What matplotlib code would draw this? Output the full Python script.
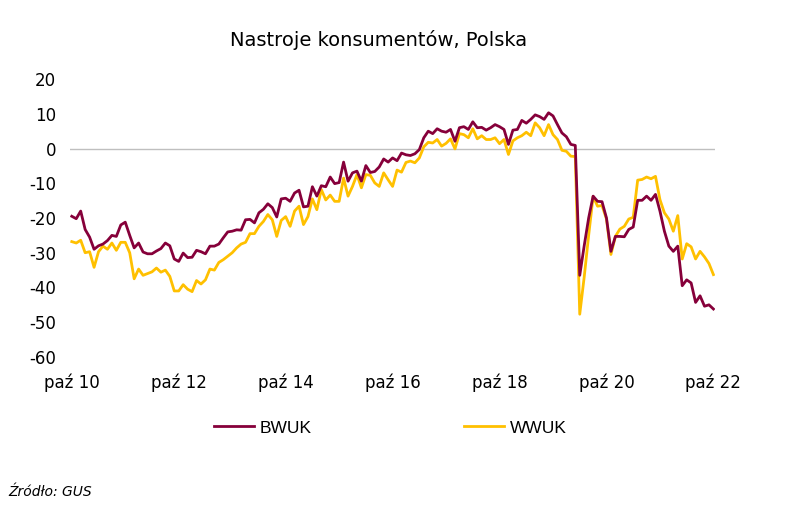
import matplotlib
matplotlib.use("Agg")
from matplotlib import pyplot as plt
import numpy as np

plt.rcParams["axes.unicode_minus"] = False

# monthly, paz 2010 .. paz 2022
bwuk = [-19.5, -20.2, -18.0, -23.3, -25.5, -29.0, -28.0, -27.5, -26.5, -25.0,
        -25.3, -22.0, -21.2, -25.0, -28.6, -27.2, -29.8, -30.3, -30.3, -29.5,
        -28.8, -27.2, -28.0, -31.8, -32.5, -30.1, -31.4, -31.3, -29.3, -29.7,
        -30.3, -28.1, -28.1, -27.5, -25.7, -24.0, -23.8, -23.4, -23.5, -20.5,
        -20.4, -21.4, -18.5, -17.5, -15.9, -17.0, -19.7, -14.5, -14.3, -15.2,
        -12.8, -12.0, -16.8, -16.6, -11.0, -13.7, -10.7, -11.0, -8.2, -10.1,
        -9.8, -3.9, -9.4, -7.0, -6.5, -9.4, -4.9, -6.9, -6.6, -5.3,
        -3.0, -3.9, -2.7, -3.5, -1.3, -1.8, -2.0, -1.5, -0.3, 3.1,
        5.0, 4.3, 5.7, 5.0, 4.7, 5.5, 2.1, 6.0, 6.3, 5.5,
        7.7, 6.0, 6.1, 5.3, 6.0, 6.9, 6.3, 5.5, 1.2, 5.3,
        5.5, 8.1, 7.3, 8.4, 9.7, 9.2, 8.4, 10.3, 9.4, 6.9,
        4.5, 3.4, 1.2, 0.9, -36.5, -28.0, -20.0, -13.7, -15.2, -15.3,
        -20.0, -29.6, -25.3, -25.3, -25.4, -23.3, -22.6, -14.9, -14.9, -13.7,
        -14.9, -13.2, -18.0, -23.8, -28.1, -29.6, -28.1, -39.5, -37.8, -38.7,
        -44.3, -42.4, -45.4, -45.0, -46.2]

wwuk = [-26.8, -27.2, -26.4, -30.0, -29.7, -34.2, -29.7, -28.1, -29.0, -27.2,
        -29.3, -27.0, -27.0, -30.0, -37.5, -34.7, -36.5, -36.0, -35.5, -34.4,
        -35.6, -35.0, -36.8, -41.0, -41.0, -39.2, -40.5, -41.2, -38.0, -39.0,
        -37.8, -34.7, -35.0, -32.8, -32.0, -31.0, -30.0, -28.6, -27.5, -27.0,
        -24.5, -24.5, -22.4, -21.0, -19.0, -20.5, -25.3, -20.7, -19.6, -22.4,
        -18.0, -16.6, -21.9, -19.6, -14.5, -17.6, -11.8, -14.8, -13.4, -15.2,
        -15.2, -8.5, -13.7, -10.9, -7.5, -11.3, -7.5, -7.7, -9.9, -10.9,
        -7.0, -9.0, -10.9, -6.2, -6.8, -4.0, -3.6, -4.1, -2.7, 0.5,
        1.8, 1.6, 2.6, 0.7, 1.5, 2.8, -0.1, 4.3, 4.0, 3.1,
        5.7, 2.8, 3.7, 2.6, 2.6, 3.1, 1.4, 2.6, -1.7, 2.2,
        3.1, 3.7, 4.7, 3.7, 7.4, 6.0, 3.7, 6.9, 4.0, 2.6,
        -0.5, -0.8, -2.2, -2.3, -47.7, -37.0, -25.0, -13.8, -16.6, -16.4,
        -20.3, -30.5, -25.3, -23.2, -22.4, -20.3, -19.8, -9.1, -8.9, -8.2,
        -8.7, -8.0, -14.7, -18.5, -20.3, -23.8, -19.3, -31.8, -27.4, -28.3,
        -31.8, -29.6, -31.2, -33.1, -36.3]

xlabels = ["paź 10", "paź 12", "paź 14", "paź 16", "paź 18", "paź 20", "paź 22"]
yticks = [20, 10, 0, -10, -20, -30, -40, -50, -60]

x = np.arange(len(bwuk))

fig = plt.figure(figsize=(8, 5.07), dpi=100)
ax = fig.add_axes([0.0875, 0.296, 0.8065, 0.548])

ax.axhline(0, color="#bfbfbf", lw=1, zorder=1)
ax.plot(x, bwuk, color="#86003a", lw=2.0, label="BWUK", zorder=3)
ax.plot(x, wwuk, color="#ffc000", lw=2.0, label="WWUK", zorder=2)

ax.set_xlim(-0.4, len(bwuk) - 0.6)
ax.set_ylim(-60, 20)
ax.set_yticks(yticks)
ax.set_xticks(np.arange(0, len(bwuk), 24))
ax.set_xticklabels(xlabels)
ax.tick_params(length=0, labelsize=12, colors="#000000")
ax.tick_params(axis="x", pad=12)
ax.tick_params(axis="y", pad=10)
for s in ax.spines.values():
    s.set_visible(False)

fig.text(0.473, 0.921, "Nastroje konsumentów, Polska", ha="center", va="center", fontsize=14)

fig.legend(loc="center", bbox_to_anchor=(0.488, 1 - 428 / 507), ncol=2, frameon=False,
           handlelength=2.3, columnspacing=8.8, handletextpad=0.3,
           prop={"family": ["Liberation Sans", "DejaVu Sans"], "size": 12.5})

fig.text(0.01, 1 - 492 / 507, "Źródło: GUS", ha="left", va="center", fontsize=10, style="italic")

fig.savefig("out.png", dpi=100)
